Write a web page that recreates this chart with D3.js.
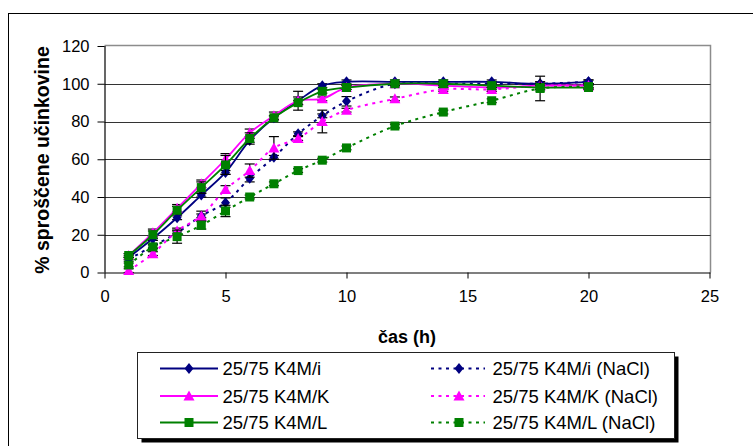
<!DOCTYPE html>
<html>
<head>
<meta charset="utf-8">
<script src="https://cdn.jsdelivr.net/npm/d3@7/dist/d3.min.js"></script>
<style>
  html, body { margin: 0; padding: 0; background: #fff; }
  svg { display: block; }
  svg text { font-family: "Liberation Sans", Arial, sans-serif; }
</style>
</head>
<body>
<svg id="chart" width="753" height="446"></svg>
<script>
// ---- data ----
const time = [1, 2, 3, 4, 5, 6, 7, 8, 9, 10, 12, 14, 16, 18, 20];

const iSolid  = [8, 18, 29, 41, 53, 70, 82, 91, 99, 101, 101, 101, 101, 100, 101];
const kSolid  = [9, 21, 34, 47, 60, 74, 83, 91, 92, 98, 100, 99, 98, 99, 99];
const lSolid  = [9, 20, 33, 45, 57, 71, 82, 90, 96, 98, 100, 100, 99, 98, 98];
const iNaCl   = [7, 14, 21, 30, 37, 50, 61, 73.5, 83, 90.7, 100, 100, 100, 100, 101];
const kNaCl   = [1, 10, 22, 30, 44, 54, 66, 71, 80, 86, 92, 97, 97, 99, 99];
const lNaCl   = [4, 13.6, 19, 25, 32.6, 40, 47, 54, 59.5, 66, 77.6, 85, 91, 97.5, 98.5];

const iSolidErr = [1, 1, 1, 1, 1, 1, 1, 5, 1, 1, 1, 1, 1, 1, 1];
const kSolidErr = [1, 2, 2, 2, 3, 2, 2, 2, 1, 1, 1, 1, 1, 1, 1];
const lSolidErr = [1, 2, 2, 3, 5, 3, 1, 1, 1, 1, 1, 1, 1, 1, 1];
const iNaClErr  = [1, 1, 1, 1, 2.5, 2, 1, 1, 1, 2.5, 1, 1, 1, 1, 1];
const kNaClErr  = [1, 1, 1.5, 2.5, 2, 3.5, 6, 1, 6, 1, 1, 1, 1, 1, 1];
const lNaClErr  = [1, 1, 3.5, 2, 3, 1, 1, 1, 1, 1, 1, 1, 1, 6.5, 1];

const seriesNames = ["25/75 K4M/i", "25/75 K4M/i (NaCl)", "25/75 K4M/K",
                     "25/75 K4M/K (NaCl)", "25/75 K4M/L", "25/75 K4M/L (NaCl)"];
const xTicks = [0, 5, 10, 15, 20, 25];
const yTicks = [0, 20, 40, 60, 80, 100, 120];
const xTitle = "čas (h)";
const yTitle = "% sproščene učinkovine";

// ---- series table ----
const NAVY = "#000080", MAG = "#FF00FF", GRN = "#008000";
const series = [
  {name: seriesNames[0], values: iSolid, err: iSolidErr, color: NAVY, shape: "diamond", dotted: false},
  {name: seriesNames[1], values: iNaCl,  err: iNaClErr,  color: NAVY, shape: "diamond", dotted: true},
  {name: seriesNames[2], values: kSolid, err: kSolidErr, color: MAG,  shape: "triangle", dotted: false},
  {name: seriesNames[3], values: kNaCl,  err: kNaClErr,  color: MAG,  shape: "triangle", dotted: true},
  {name: seriesNames[4], values: lSolid, err: lSolidErr, color: GRN,  shape: "square", dotted: false},
  {name: seriesNames[5], values: lNaCl,  err: lNaClErr,  color: GRN,  shape: "square", dotted: true}
];

const svg = d3.select("#chart");
const FONT = "'Liberation Sans', Arial, sans-serif";

// outer border
svg.append("rect").attr("x", 8.5).attr("y", 13.5).attr("width", 800).attr("height", 500)
  .attr("fill", "#fff").attr("stroke", "#000").attr("stroke-width", 1);

const plot = {left: 104.5, right: 709.5, top: 46, bottom: 272.5};
const x = d3.scaleLinear().domain([0, 25]).range([plot.left, plot.right]);
const y = d3.scaleLinear().domain([0, 120]).range([plot.bottom, plot.top]);

// plot border (gray) top/right
svg.append("path")
  .attr("d", `M${plot.left},${plot.top - 0.5}H${plot.right + 1}V${plot.bottom}`)
  .attr("fill", "none").attr("stroke", "#8c8c8c").attr("stroke-width", 1.5);

// gridlines
svg.append("g").selectAll("line").data(yTicks.filter(v => v > 0 && v < 120)).join("line")
  .attr("x1", plot.left).attr("x2", plot.right + 1)
  .attr("y1", d => Math.round(y(d)) + 0.5).attr("y2", d => Math.round(y(d)) + 0.5)
  .attr("stroke", "#333").attr("stroke-width", 1);

// axes
const yAxis = d3.axisLeft(y).tickValues(yTicks).tickSize(7).tickPadding(8).tickFormat(d3.format("d"));
const gy = svg.append("g").attr("transform", `translate(${plot.left},0)`).call(yAxis);
const xAxis = d3.axisBottom(x).tickValues(xTicks).tickSize(6).tickPadding(12).tickFormat(d3.format("d"));
const gx = svg.append("g").attr("transform", `translate(0,${plot.bottom})`).call(xAxis);
[gx, gy].forEach(g => {
  g.attr("font-family", FONT);
  g.select(".domain").attr("stroke", "#000").attr("stroke-width", 1.2);
  g.selectAll(".tick line").attr("stroke", "#000");
  g.selectAll(".tick text").attr("font-size", 16.5).attr("fill", "#000").style("font-family", FONT);
});
gx.select(".domain").attr("d", `M${plot.left},0.5H${plot.right + 1}`);
gy.select(".domain").attr("d", `M0.5,${plot.top}V${plot.bottom}`);

// axis titles
svg.append("text").attr("x", 407).attr("y", 343).attr("text-anchor", "middle")
  .attr("font-size", 18).attr("font-weight", "bold").style("font-family", FONT).text(xTitle);
svg.append("text").attr("transform", `translate(42,160) rotate(-90)`)
  .attr("text-anchor", "middle").attr("dominant-baseline", "central")
  .attr("font-size", 19.5).attr("font-weight", "bold").style("font-family", FONT).text(yTitle);

// marker path
function markerPath(shape) {
  if (shape === "diamond") return "M0,-5.5L4.5,0L0,5.5L-4.5,0Z";
  if (shape === "triangle") return "M0,-5.5L5.5,4.5L-5.5,4.5Z";
  return "M-4.5,-4.5H4.5V4.5H-4.5Z";
}

const line = d3.line().x(d => x(d[0])).y(d => y(d[1])).curve(d3.curveCatmullRom.alpha(0.5));

series.forEach(s => {
  const pts = time.map((t, i) => [t, s.values[i], s.err[i]]);
  const g = svg.append("g");
  // error bars
  const eb = g.append("g").attr("stroke", "#000").attr("stroke-width", 1.2);
  pts.forEach(p => {
    const cx = x(p[0]), y1 = y(p[1] + p[2]), y2 = y(p[1] - p[2]);
    eb.append("line").attr("x1", cx).attr("x2", cx).attr("y1", y1).attr("y2", y2);
    eb.append("line").attr("x1", cx - 5).attr("x2", cx + 5).attr("y1", y1).attr("y2", y1);
    eb.append("line").attr("x1", cx - 5).attr("x2", cx + 5).attr("y1", y2).attr("y2", y2);
  });
  g.append("path").attr("d", line(pts)).attr("fill", "none").attr("stroke", s.color)
    .attr("stroke-width", s.dotted ? 2 : 1.8)
    .attr("stroke-dasharray", s.dotted ? "3,4.5" : null);
  g.selectAll("path.m").data(pts).join("path").attr("class", "m")
    .attr("transform", d => `translate(${x(d[0])},${y(d[1])})`)
    .attr("d", markerPath(s.shape)).attr("fill", s.color);
});

// legend
const lg = svg.append("g");
lg.append("rect").attr("x", 141.5).attr("y", 356.5).attr("width", 537).attr("height", 86).attr("fill", "#000");
lg.append("rect").attr("x", 137.5).attr("y", 352.5).attr("width", 537).attr("height", 86)
  .attr("fill", "#fff").attr("stroke", "#222").attr("stroke-width", 1);
const rowY = [368.5, 396, 422.5];
const cols = [{l1: 160, l2: 218, m: 189, t: 222.5}, {l1: 431, l2: 485, m: 459, t: 492.5}];
series.forEach((s, i) => {
  const c = cols[i % 2], ry = rowY[Math.floor(i / 2)];
  lg.append("line").attr("x1", c.l1).attr("x2", c.l2).attr("y1", ry).attr("y2", ry)
    .attr("stroke", s.color).attr("stroke-width", s.dotted ? 2 : 1.8)
    .attr("stroke-dasharray", s.dotted ? "3,4.5" : null);
  lg.append("path").attr("transform", `translate(${c.m},${ry})`)
    .attr("d", markerPath(s.shape)).attr("fill", s.color);
  lg.append("text").attr("x", c.t).attr("y", ry).attr("dominant-baseline", "central")
    .attr("font-size", 18.5).attr("fill", "#000").style("font-family", FONT).text(s.name);
});
</script>
</body>
</html>
